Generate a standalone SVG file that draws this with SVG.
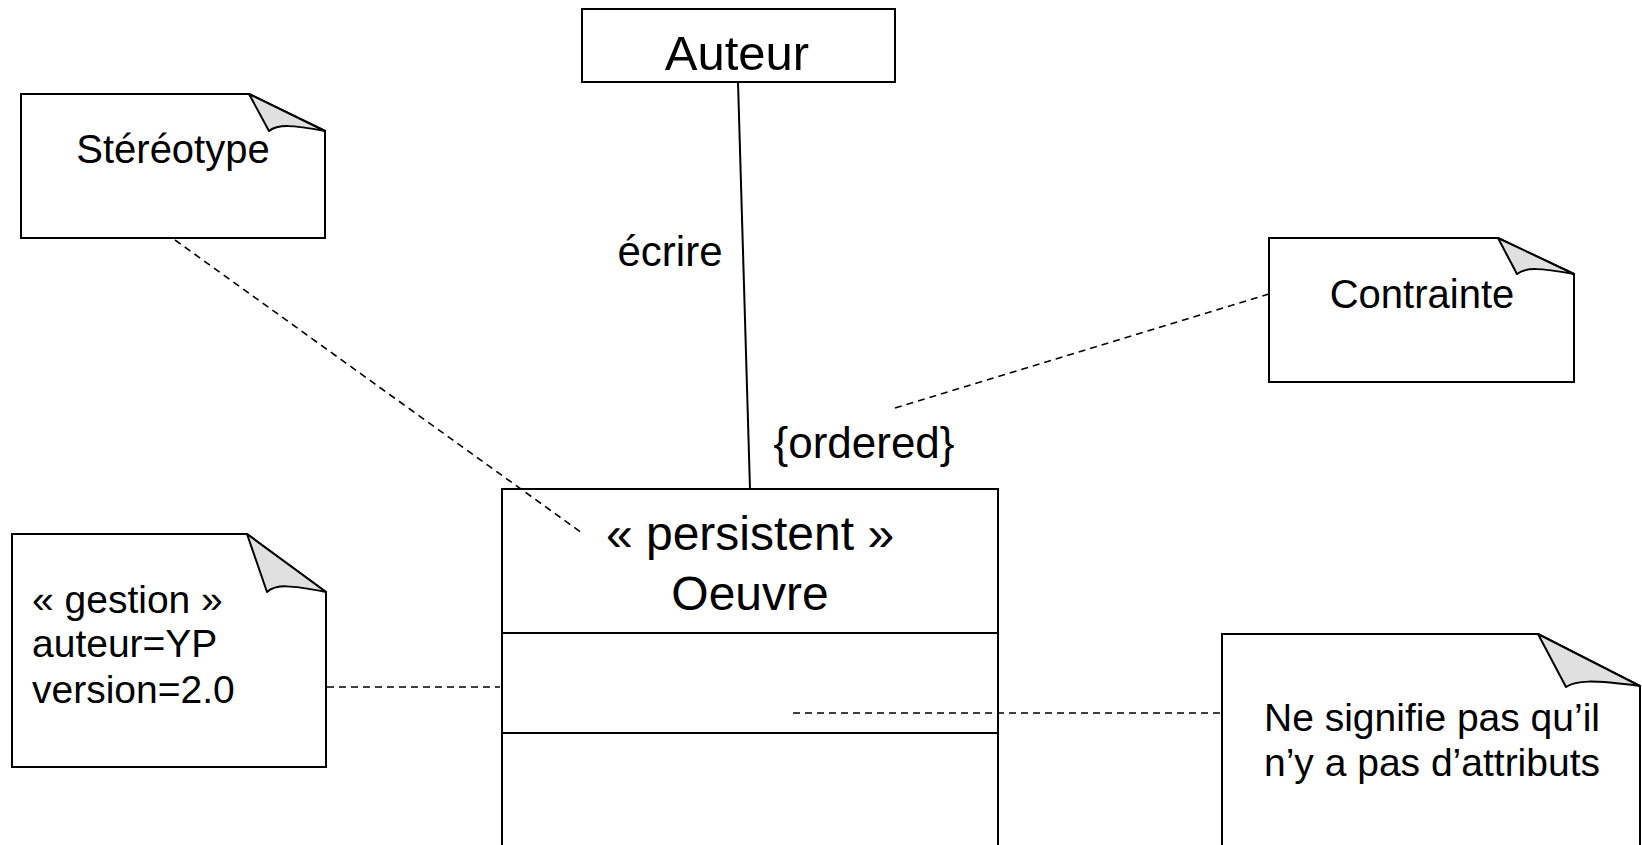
<svg xmlns="http://www.w3.org/2000/svg" width="1642" height="845" viewBox="0 0 1642 845">
  <style>
    .box { fill: #ffffff; stroke: #000000; stroke-width: 2; }
    .note { fill: #ffffff; stroke: #000000; stroke-width: 2; stroke-linejoin: miter; }
    .fold { fill: #e0e0e0; stroke: #000000; stroke-width: 2; stroke-linejoin: round; }
    .assoc { stroke: #000000; stroke-width: 2; fill: none; }
    .anchor { stroke: #000000; stroke-width: 1.6; stroke-dasharray: 7 5; fill: none; }
    text { font-family: "Liberation Sans", Arial, sans-serif; fill: #000000; }
    .c { text-anchor: middle; }
  </style>

  <rect width="1642" height="845" fill="#ffffff"/>

  <!-- class Auteur -->
  <g id="auteur">
    <rect class="box" x="582" y="9" width="313" height="73"/>
    <text x="737" y="70" class="c" font-size="49">Auteur</text>
  </g>

  <!-- class Oeuvre with stereotype -->
  <g id="oeuvre">
    <rect class="box" x="502" y="489" width="496" height="380"/>
    <line class="assoc" x1="502" y1="633" x2="998" y2="633"/>
    <line class="assoc" x1="502" y1="733" x2="998" y2="733"/>
    <text x="750" y="550" class="c" font-size="48">« persistent »</text>
    <text x="750" y="610" class="c" font-size="48">Oeuvre</text>
  </g>

  <!-- note: Stéréotype -->
  <g id="note-stereotype">
    <path class="note" d="M21,94 L249,94 L325,131 L325,238 L21,238 Z"/>
    <path class="fold" d="M249,94 L269,131 C278,124 292,125 325,131 Z"/>
    <text x="173" y="163" class="c" font-size="40">Stéréotype</text>
  </g>

  <!-- note: Contrainte -->
  <g id="note-contrainte">
    <path class="note" d="M1269,238 L1498,238 L1574,274 L1574,382 L1269,382 Z"/>
    <path class="fold" d="M1498,238 L1517,274 C1526,267 1540,268 1574,274 Z"/>
    <text x="1422" y="308" class="c" font-size="40">Contrainte</text>
  </g>

  <!-- note: tagged values -->
  <g id="note-gestion">
    <path class="note" d="M12,534 L247,534 L326,592 L326,767 L12,767 Z"/>
    <path class="fold" d="M247,534 L267,592 C276,584 290,585 326,592 Z"/>
    <text x="32" y="613" font-size="39">« gestion »</text>
    <text x="32" y="657" font-size="39">auteur=YP</text>
    <text x="32" y="703" font-size="39">version=2.0</text>
  </g>

  <!-- note: empty attribute compartment -->
  <g id="note-attributs">
    <path class="note" d="M1222,869 L1222,634 L1538,634 L1640,686 L1640,869"/>
    <path class="fold" d="M1538,634 L1566,687 C1576,680 1592,680 1640,686 Z"/>
    <text x="1432" y="731" class="c" font-size="39">Ne signifie pas qu’il</text>
    <text x="1432" y="776" class="c" font-size="39">n’y a pas d’attributs</text>
  </g>

  <!-- connectors: association and note anchors (drawn on top of the boxes) -->
  <g id="connectors">
    <line class="assoc" x1="738" y1="82" x2="750" y2="489"/>
    <line class="anchor" x1="175" y1="240" x2="582" y2="533"/>
    <line class="anchor" x1="895" y1="408" x2="1269" y2="294"/>
    <line class="anchor" x1="327" y1="687" x2="500" y2="687"/>
    <line class="anchor" x1="793" y1="713" x2="1221" y2="713"/>
    <text x="670" y="266" class="c" font-size="42">écrire</text>
    <text x="864" y="458" class="c" font-size="44">{ordered}</text>
  </g>
</svg>
